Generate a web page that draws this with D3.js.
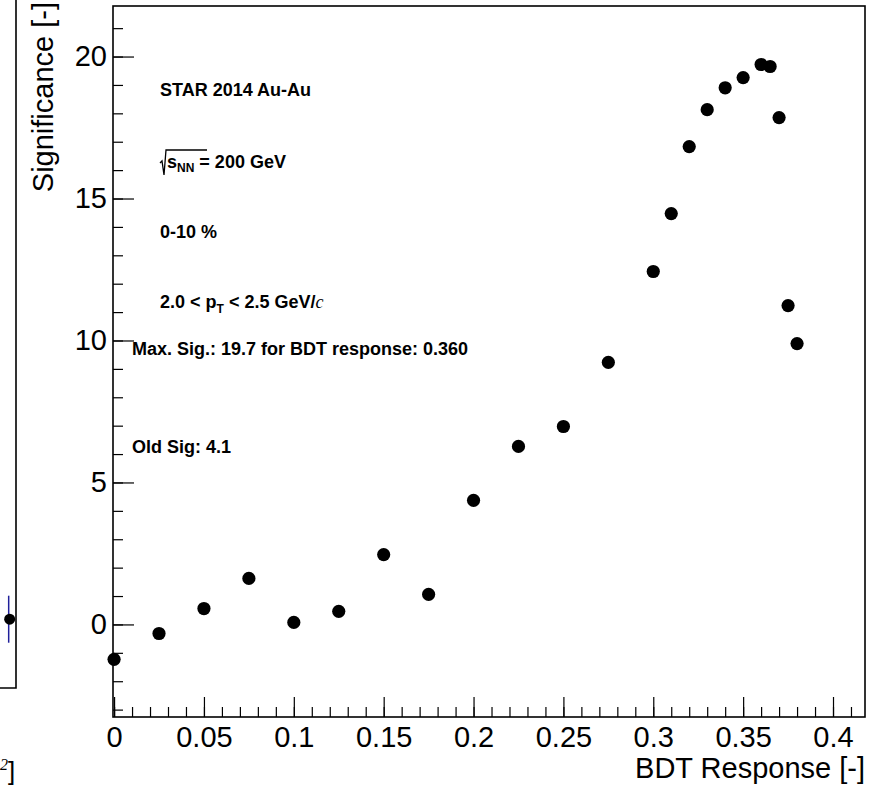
<!DOCTYPE html>
<html>
<head>
<meta charset="utf-8">
<script src="https://cdn.jsdelivr.net/npm/d3@7"></script>
<style>
  body { margin: 0; background: #fff; }
  svg { display: block; font-family: "Liberation Sans", Arial, Helvetica, sans-serif; }
  .note { font-weight: bold; font-size: 18px; fill: #000; }
</style>
</head>
<body>
<svg width="872" height="786"></svg>
<script>
// BDT response cut values and the significance for each
const bdtCuts = [0, 0.025, 0.05, 0.075, 0.1, 0.125, 0.15, 0.175, 0.2, 0.225, 0.25, 0.275,
                 0.3, 0.31, 0.32, 0.33, 0.34, 0.35, 0.36, 0.365, 0.37, 0.375, 0.38];
const significance = [-1.23, -0.32, 0.56, 1.62, 0.07, 0.46, 2.46, 1.06, 4.37, 6.27, 6.97, 9.23,
                      12.43, 14.47, 16.83, 18.13, 18.9, 19.26, 19.72, 19.65, 17.85, 11.23, 9.89];
const xTicks = [0, 0.05, 0.1, 0.15, 0.2, 0.25, 0.3, 0.35, 0.4];
const yTicks = [0, 5, 10, 15, 20];

// piece of the neighbouring pad that is cut off on the left
const leftPadX = [0.98];
const leftPadY = [-0.6];
const leftPadErr = [0.82];

let svg = d3.select("svg");

let area = { left: 113, right: 865, top: 6, bottom: 717 };

let scX = d3.scaleLinear().domain([-0.0006, 0.4178]).range([area.left, area.right]);
let scY = d3.scaleLinear().domain([-3.26, 21.78]).range([area.bottom, area.top]);

// minor ticks
let xMinor = d3.range(0, 0.4175, 0.01);
let yMinor = d3.range(-3, 21.5, 1);

svg.append("g")
    .attr("transform", `translate(0, ${area.bottom})`)
    .call(d3.axisBottom(scX).tickValues(xMinor).tickSize(-10).tickFormat(""))
    .call(g => g.select(".domain").remove());

svg.append("g")
    .attr("transform", `translate(${area.left}, 0)`)
    .call(d3.axisLeft(scY).tickValues(yMinor).tickSize(-10).tickFormat(""))
    .call(g => g.select(".domain").remove());

// major ticks with labels
svg.append("g")
    .attr("transform", `translate(0, ${area.bottom})`)
    .call(d3.axisBottom(scX).tickValues(xTicks).tickSize(-20).tickPadding(9)
        .tickFormat(d => d3.format("")(+d.toFixed(2))))
    .call(g => g.select(".domain").remove())
    .call(g => g.selectAll("text").attr("font-size", 29).attr("font-family", "Liberation Sans, Arial, sans-serif").attr("fill", "#000"));

svg.append("g")
    .attr("transform", `translate(${area.left}, 0)`)
    .call(d3.axisLeft(scY).tickValues(yTicks).tickSize(-21).tickPadding(6))
    .call(g => g.select(".domain").remove())
    .call(g => g.selectAll("text").attr("font-size", 29).attr("font-family", "Liberation Sans, Arial, sans-serif").attr("fill", "#000"));

svg.selectAll(".tick line").attr("stroke", "#000").attr("stroke-width", 1.2);

// frame
svg.append("rect")
    .attr("x", area.left)
    .attr("y", area.top)
    .attr("width", area.right - area.left)
    .attr("height", area.bottom - area.top)
    .attr("fill", "none")
    .attr("stroke", "#000")
    .attr("stroke-width", 1.6);

// axis titles
svg.append("text")
    .attr("x", area.right)
    .attr("y", 778)
    .attr("text-anchor", "end")
    .attr("font-size", 29)
    .text("BDT Response [-]");

svg.append("text")
    .attr("transform", `translate(53, 2) rotate(-90)`)
    .attr("text-anchor", "end")
    .attr("font-size", 29)
    .text("Significance [-]");

// points
svg.selectAll(".pt")
    .data(bdtCuts)
    .enter()
    .append("circle")
    .attr("cx", d => scX(d))
    .attr("cy", (d, i) => scY(significance[i]))
    .attr("r", 6.6)
    .style("fill", "#000");

// annotations
const noteX = 160;
svg.append("text").attr("class", "note").attr("x", noteX).attr("y", 96).text("STAR 2014 Au-Au");

let sq = svg.append("g");
sq.append("path")
    .attr("d", `M${noteX},163 L${noteX + 2},161 L${noteX + 4},175 L${noteX + 6},150 L${noteX + 47},150`)
    .attr("fill", "none")
    .attr("stroke", "#000")
    .attr("stroke-width", 1.3);
let t2 = sq.append("text").attr("class", "note").attr("x", noteX + 7).attr("y", 168);
t2.append("tspan").text("s");
t2.append("tspan").attr("font-size", 12).attr("dy", 4).text("NN");
t2.append("tspan").attr("dy", -4).text(" = 200 GeV");

svg.append("text").attr("class", "note").attr("x", noteX).attr("y", 238).text("0-10 %");

let t4 = svg.append("text").attr("class", "note").attr("x", noteX).attr("y", 308);
t4.append("tspan").text("2.0 < p");
t4.append("tspan").attr("font-size", 12).attr("dy", 5).text("T");
t4.append("tspan").attr("dy", -5).text(" < 2.5 GeV/");
t4.append("tspan").attr("font-family", "Liberation Serif, Times New Roman, serif")
    .attr("font-style", "italic").attr("font-weight", "normal").text("c");

svg.append("text").attr("class", "note").attr("x", 132).attr("y", 355)
    .text("Max. Sig.: 19.7 for BDT response: 0.360");
svg.append("text").attr("class", "note").attr("x", 132).attr("y", 453)
    .text("Old Sig: 4.1");

// remnant of the left pad
let lx = d3.scaleLinear().domain([0, 1]).range([-300, 16]);
let ly = d3.scaleLinear().domain([-3, 21]).range([688, 0]);

svg.append("path")
    .attr("d", `M${lx(1)},0 L${lx(1)},${ly(-3)} L0,${ly(-3)}`)
    .attr("fill", "none")
    .attr("stroke", "#000")
    .attr("stroke-width", 1.6);

svg.selectAll(".lerr")
    .data(leftPadX)
    .enter()
    .append("line")
    .attr("x1", d => lx(d) - 1)
    .attr("x2", d => lx(d) - 1)
    .attr("y1", (d, i) => ly(leftPadY[i] + leftPadErr[i]))
    .attr("y2", (d, i) => ly(leftPadY[i] - leftPadErr[i]))
    .attr("stroke", "#1f1f9a")
    .attr("stroke-width", 1.5);

svg.selectAll(".lpt")
    .data(leftPadX)
    .enter()
    .append("circle")
    .attr("cx", d => lx(d))
    .attr("cy", (d, i) => ly(leftPadY[i]))
    .attr("r", 5.5)
    .style("fill", "#000");

let t7 = svg.append("text").attr("x", 0).attr("y", 780).attr("font-size", 26)
    .attr("font-family", "Liberation Serif, Times New Roman, serif").attr("font-style", "italic");
t7.append("tspan").attr("font-size", 16).attr("dy", -10).text("2");
t7.append("tspan").attr("dy", 10).attr("font-style", "normal")
    .attr("font-family", "Liberation Sans, Arial, sans-serif").text("]");
</script>
</body>
</html>
